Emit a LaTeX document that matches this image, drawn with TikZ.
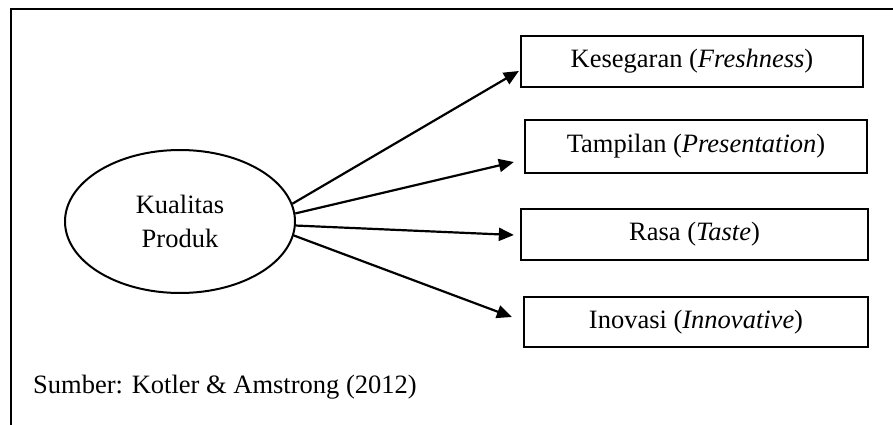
\documentclass[tikz,border=0pt]{standalone}
\usepackage{fontspec}
\setmainfont{Liberation Serif}
\usetikzlibrary{shapes.geometric,arrows.meta}
\begin{document}
\begin{tikzpicture}[x=1pt,y=-1pt,
  every node/.style={font=\fontsize{26.5}{34}\selectfont},
  framebar/.style={line width=2.6pt},
  ell/.style={ellipse,draw,line width=2pt,minimum width=230pt,minimum height=143pt,inner sep=0pt,align=center},
  dimbox/.style={rectangle,draw,line width=2.3pt,inner sep=0pt},
  link/.style={line width=2.2pt,-{Triangle[length=15pt,width=13pt]}}]
  \useasboundingbox (0,0) rectangle (893,425);
  % open frame: left and top rules
  \draw[framebar] (11,425) -- (11,9) -- (893,9);
  % central construct
  \node[ell] (kp) at (180,221.5) {Kualitas\\Produk};
  % dimensions
  \node[dimbox,minimum width=342pt,minimum height=51pt] (k1) at (692,61.5) {Kesegaran (\textit{Freshness})};
  \node[dimbox,minimum width=342pt,minimum height=53pt] (k2) at (696,146.5) {Tampilan (\textit{Presentation})};
  \node[dimbox,minimum width=347pt,minimum height=51pt] (k3) at (694.5,234.5) {Rasa (\textit{Taste})};
  \node[dimbox,minimum width=344pt,minimum height=50pt] (k4) at (696,322) {Inovasi (\textit{Innovative})};
  % arrows from the construct to each dimension
  \draw[link] (kp.9) -- ([shift={(-1,9.5)}]k1.west);
  \draw[link] (kp.4) -- ([shift={(-10,15.5)}]k2.west);
  \draw[link] (kp.-2) -- ([shift={(-6,0.5)}]k3.west);
  \draw[link] (kp.-7) -- ([shift={(-11,-5)}]k4.west);
  % source note
  \node[anchor=base west,inner sep=0pt] (src) at (33,393) {Sumber: Kotler \& Amstrong (2012)};
\end{tikzpicture}
\end{document}
